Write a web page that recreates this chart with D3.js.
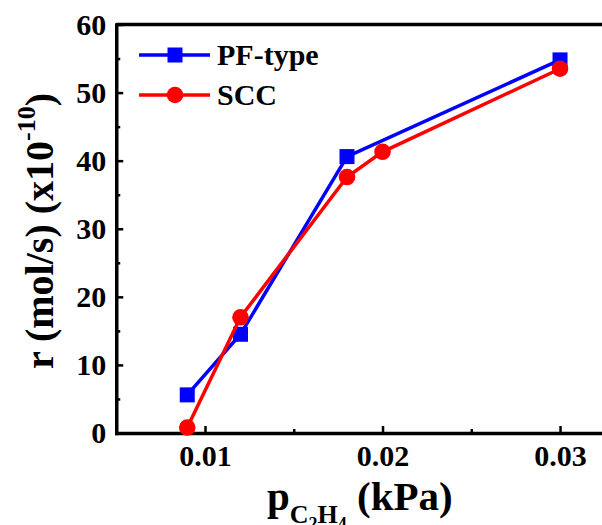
<!DOCTYPE html>
<html>
<head>
  <meta charset="utf-8">
  <style>
    body { margin: 0; background: #fff; }
    svg text { font-family: "Liberation Serif", "Times New Roman", serif; font-weight: bold; fill: #000; }
  </style>
</head>
<body>
<script src="https://cdnjs.cloudflare.com/ajax/libs/d3/7.8.5/d3.min.js"></script>
<script>

// ethylene partial pressure (kPa) and rate (x1e-10 mol/s)
var pfPressure = [0.009, 0.012, 0.018, 0.030];
var pfRate = [5.6, 14.5, 40.6, 54.8];
var sccPressure = [0.009, 0.012, 0.018, 0.020, 0.030];
var sccRate = [0.8, 17.0, 37.6, 41.3, 53.5];

var xTicks = [0.01, 0.02, 0.03];
var xMinor = [0.015, 0.025];
var yTicks = [0, 10, 20, 30, 40, 50, 60];
var yMinor = [5, 15, 25, 35, 45, 55];

var seriesNames = ["PF-type", "SCC"];

var width = 602, height = 525;

var svg = d3.select("body").append("svg")
  .attr("width", width)
  .attr("height", height);

var x = d3.scaleLinear().domain([0.005, 0.0325]).range([116.25, 604.4]);
var y = d3.scaleLinear().domain([0, 60]).range([433, 24.5]);

// top frame line
svg.append("line")
  .attr("x1", x(0.005)).attr("x2", width)
  .attr("y1", y(60)).attr("y2", y(60))
  .attr("stroke", "#000").attr("stroke-width", 3.5);

// minor ticks
svg.append("g")
  .attr("transform", "translate(0," + y(0) + ")")
  .call(d3.axisBottom(x).tickValues(xMinor).tickSize(-4).tickSizeOuter(0).tickFormat(""))
  .call(function(g) { g.select(".domain").remove(); g.selectAll("line").attr("stroke-width", 2.5); });

svg.append("g")
  .attr("transform", "translate(" + x(0.005) + ",0)")
  .call(d3.axisLeft(y).tickValues(yMinor).tickSize(-4).tickSizeOuter(0).tickFormat(""))
  .call(function(g) { g.select(".domain").remove(); g.selectAll("line").attr("stroke-width", 2.5); });

// major axes
var xAxis = svg.append("g")
  .attr("transform", "translate(0," + y(0) + ")")
  .call(d3.axisBottom(x).tickValues(xTicks).tickSize(-7).tickSizeOuter(0).tickPadding(12)
    .tickFormat(d3.format(".2f")));

var yAxis = svg.append("g")
  .attr("transform", "translate(" + x(0.005) + ",0)")
  .call(d3.axisLeft(y).tickValues(yTicks).tickSize(-7).tickSizeOuter(0).tickPadding(10));

[xAxis, yAxis].forEach(function(g) {
  g.select(".domain").attr("stroke", "#000").attr("stroke-width", 3.5).attr("stroke-linecap", "square");
  g.selectAll(".tick line").attr("stroke", "#000").attr("stroke-width", 2.5);
  g.selectAll(".tick text")
    .style("font-family", "'Liberation Serif', 'Times New Roman', serif")
    .style("font-weight", "bold")
    .style("font-size", "30px")
    .attr("fill", "#000");
});

// series
var line = d3.line()
  .x(function(d) { return x(d[0]); })
  .y(function(d) { return y(d[1]); });

var pfData = d3.zip(pfPressure, pfRate);
var sccData = d3.zip(sccPressure, sccRate);

svg.append("path")
  .attr("d", line(pfData))
  .attr("fill", "none").attr("stroke", "#0000ff").attr("stroke-width", 3.5);
svg.selectAll(".pf").data(pfData).enter().append("rect")
  .attr("class", "pf")
  .attr("x", function(d) { return x(d[0]) - 7.5; })
  .attr("y", function(d) { return y(d[1]) - 7.5; })
  .attr("width", 15).attr("height", 15)
  .attr("fill", "#0000ff");

svg.append("path")
  .attr("d", line(sccData))
  .attr("fill", "none").attr("stroke", "#ff0000").attr("stroke-width", 3.5);
svg.selectAll(".scc").data(sccData).enter().append("circle")
  .attr("class", "scc")
  .attr("cx", function(d) { return x(d[0]); })
  .attr("cy", function(d) { return y(d[1]); })
  .attr("r", 8.3)
  .attr("fill", "#ff0000");

// legend
var legend = svg.append("g");
var legendY = [55, 95];
var legendColors = ["#0000ff", "#ff0000"];
seriesNames.forEach(function(name, i) {
  var ly = legendY[i];
  legend.append("line")
    .attr("x1", 139).attr("x2", 210).attr("y1", ly).attr("y2", ly)
    .attr("stroke", legendColors[i]).attr("stroke-width", 3.5);
  if (i === 0) {
    legend.append("rect").attr("x", 175 - 7.5).attr("y", ly - 7.5)
      .attr("width", 15).attr("height", 15).attr("fill", legendColors[i]);
  } else {
    legend.append("circle").attr("cx", 175).attr("cy", ly).attr("r", 8.3)
      .attr("fill", legendColors[i]);
  }
  legend.append("text")
    .attr("x", 217).attr("y", ly + 10)
    .style("font-size", "30px")
    .text(name);
});

// y axis title
var yTitle = svg.append("text")
  .attr("transform", "translate(53,231) rotate(-90)")
  .attr("text-anchor", "middle")
  .style("font-size", "40px");
yTitle.append("tspan").text("r (mol/s) (x10");
yTitle.append("tspan").attr("dy", -18).style("font-size", "26px").text("-10");
yTitle.append("tspan").attr("dy", 18).text(")");

// x axis title
var xTitle = svg.append("text")
  .attr("x", 267).attr("y", 510)
  .style("font-size", "41px");
xTitle.append("tspan").text("p");
xTitle.append("tspan").attr("dy", 13).style("font-size", "26px").text("C");
xTitle.append("tspan").attr("dy", 7).style("font-size", "18px").text("2");
xTitle.append("tspan").attr("dy", -7).style("font-size", "26px").text("H");
xTitle.append("tspan").attr("dy", 7).style("font-size", "18px").text("4");
xTitle.append("tspan").attr("dy", -20).text(" (kPa)");

</script>
</body>
</html>
